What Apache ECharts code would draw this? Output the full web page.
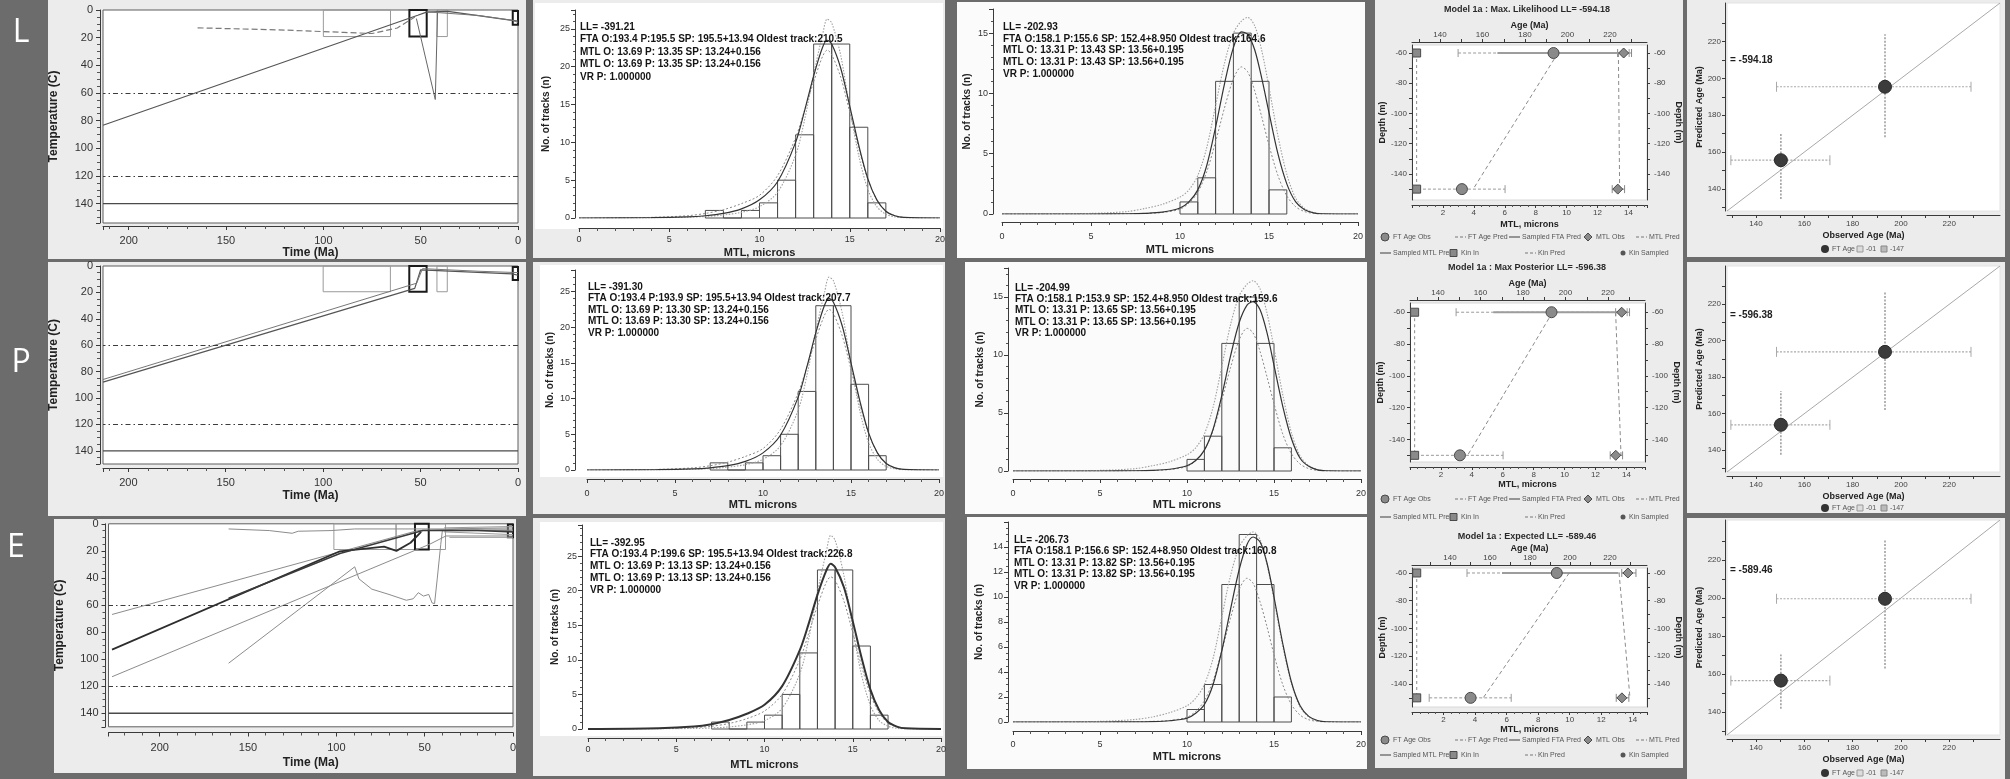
<!DOCTYPE html>
<html>
<head>
<meta charset="utf-8">
<script src="https://cdn.jsdelivr.net/npm/echarts@6/dist/echarts.min.js"></script>
<style>
  html, body { margin: 0; padding: 0; background: #6c6c6c; }
  #chart { width: 2010px; height: 779px; }
</style>
</head>
<body>
<div id="chart"></div>
<script>
// ===================== data =====================
// temperature-time panels
const timeTickLabels = [0, 50, 100, 150, 200];
const tempTickLabels = [0, 20, 40, 60, 80, 100, 120, 140];
const pazTemps = [60, 120];          // dashed partial annealing limits (°C)
const floorTemp = 140;               // solid base line (°C)

// constraint boxes: [t0, t1, T0, T1]
const boxesL = [[100, 65.5, 0, 19.2], [41.6, 36.3, 0, 19.2]];
const keyBoxesL = [[55.8, 46.9, 0, 19.2], [2.7, 0, 0.8, 10.7]];
const boxesP = [[100, 65.5, 0, 19.5], [41.6, 36.3, 0, 19.5]];
const keyBoxesP = [[55.8, 46.9, 0, 19.5], [2.7, 0, 0.8, 10.7]];
const boxesE = [[101.4, 66.2, 0, 19], [66.2, 38.2, 0, 19]];
const keyBoxesE = [[55.5, 47.7, 0, 19], [2.9, 0, 0.5, 10]];

// thermal paths: [time Ma, temperature °C]
const pathL_best = [[213.2, 83.3], [51.5, 3.8], [47, 1.5], [36, 1], [3, 7.5], [0, 8]];
const pathL_alt = [[164.6, 12.9], [120, 14.5], [89.4, 16.2], [75, 17], [62, 13], [53, 5]];
const pathL_spike = [[52.2, 6.2], [42.5, 64.7], [41.3, 0.5]];
const pathL_tail = [[46.9, 1.3], [20, 4], [2.7, 7.5], [0, 9]];

const pathP_best = [[213, 88], [53, 17], [50, 3], [3, 6], [0, 7]];
const pathP_alt = [[213, 86], [52, 13], [49, 2], [20, 4], [0, 5]];

const pathE_upper = [[227, 67], [54, 5], [30, 4], [0, 4]];
const pathE_darkA = [[227, 93], [98, 20.3], [73, 16.8], [66, 20], [58, 14], [52, 6]];
const pathE_darkB = [[161, 55], [98, 22], [51, 5], [20, 5], [0, 6]];
const pathE_lower = [[227, 113], [47, 15], [38, 9], [0, 9]];
const pathE_wander = [[161, 103], [89.6, 31.8], [87.2, 40.7], [79.9, 48.3], [70.2, 52.2], [60.4, 56.5],
  [56.5, 55.4], [53.6, 50.9], [50.7, 53.4], [47.7, 52.2], [45.8, 58.5], [44.4, 59], [42.9, 40.7],
  [40.9, 15.2], [40, 5.1], [1, 5], [0, 5]];
const pathE_top = [[161, 3.8], [138, 5], [125, 7], [121.6, 5.5], [103, 5], [89.6, 3.8], [66, 3.8], [39, 3.8], [0, 3]];
const pathE_fanA = [[39, 3], [0, 2]];
const pathE_fanB = [[39, 6], [0, 8]];
const pathE_fanC = [[36, 10], [0, 10]];

// track-length histograms (bin start, count)
const binWidth = 1;
const s1BinStarts = [7, 8, 9, 10, 11, 12, 13, 14, 15, 16];
const s1Counts = [1, 0, 1, 2, 5, 11, 23, 23, 12, 2];
const s2BinStarts = [10, 11, 12, 13, 14, 15];
const s2Counts = [1, 3, 11, 15, 11, 2];

// length-distribution curves (MTL microns vs tracks)
const s1CurveX = [0, 4, 6, 7, 8, 9, 10, 11, 12, 12.5, 13, 13.5, 13.75, 14, 14.5, 15, 15.5, 16, 16.5, 17, 17.5, 18, 20];
const s1L_tall = [0, 0.02, 0.1, 0.2, 0.4, 0.75, 1.5, 3.4, 8.3, 13, 19, 24.3, 26.3, 25.8, 21.5, 14.5, 8.2, 3.8, 1.5, 0.5, 0.15, 0.03, 0];
const s1L_fit = [0, 0.04, 0.15, 0.3, 0.6, 1.2, 2.4, 4.8, 10, 14.2, 18.8, 22.6, 23.5, 23, 19.8, 14.8, 9.6, 5.2, 2.4, 0.9, 0.3, 0.08, 0];
const s1L_low = [0, 0.08, 0.3, 0.6, 1.1, 1.9, 3.0, 5.6, 10.6, 14.3, 18, 21.4, 22.2, 21.6, 18.6, 14, 9.2, 5.1, 2.4, 0.9, 0.3, 0.08, 0];
const s1P_tall = [0, 0.02, 0.1, 0.2, 0.4, 0.75, 1.5, 3.4, 8.4, 13.3, 19.5, 24.9, 27, 26.5, 22, 14.8, 8.3, 3.8, 1.5, 0.5, 0.15, 0.03, 0];
const s1P_fit = [0, 0.04, 0.15, 0.3, 0.6, 1.2, 2.4, 4.9, 10.2, 14.5, 19.2, 23.1, 24, 23.5, 20.2, 15, 9.7, 5.2, 2.4, 0.9, 0.3, 0.08, 0];
const s1P_low = [0, 0.08, 0.3, 0.6, 1.1, 1.9, 3.0, 5.7, 10.8, 14.5, 18.3, 21.7, 22.5, 21.9, 18.8, 14.1, 9.2, 5.1, 2.4, 0.9, 0.3, 0.08, 0];
const s1E_tall = [0, 0.02, 0.08, 0.15, 0.3, 0.6, 1.2, 3, 8, 13, 19.8, 25.6, 28, 27.3, 22.2, 14.4, 7.8, 3.4, 1.2, 0.4, 0.1, 0.02, 0];
const s1E_fit = [0, 0.1, 0.35, 0.7, 1.3, 2.2, 3.5, 6.2, 11.4, 15.2, 19.4, 22.9, 23.9, 23.4, 20.5, 15.6, 10.3, 5.7, 2.7, 1.0, 0.35, 0.1, 0];
const s1E_low = [0, 0.05, 0.2, 0.4, 0.8, 1.5, 2.6, 5, 10, 13.8, 17.8, 21.2, 22, 21.5, 18.5, 13.9, 9.1, 5, 2.3, 0.85, 0.28, 0.07, 0];

const s2CurveX = [0, 5, 7, 8, 9, 10, 10.5, 11, 11.5, 12, 12.5, 13, 13.45, 13.8, 14.2, 14.6, 15, 15.5, 16, 16.5, 17, 17.5, 18, 20];
const s2L_tall = [0, 0.05, 0.2, 0.45, 0.8, 1.4, 2, 3.2, 5.5, 9, 12.5, 15, 16, 16.3, 15.6, 13.5, 10.5, 6.5, 3.3, 1.3, 0.45, 0.12, 0.02, 0];
const s2L_fit = [0, 0, 0.02, 0.05, 0.15, 0.5, 1, 2, 4, 7.2, 10.8, 13.8, 15.1, 14.9, 13.6, 11.2, 8.4, 5, 2.5, 1, 0.35, 0.1, 0.02, 0];
const s2L_low = [0, 0, 0.02, 0.05, 0.12, 0.4, 0.9, 1.8, 3.5, 6, 8.8, 11.2, 12.2, 11.8, 10.2, 8, 5.7, 3.2, 1.5, 0.6, 0.2, 0.05, 0, 0];
const s2P_tall = [0, 0.05, 0.2, 0.45, 0.8, 1.4, 2, 3.2, 5.5, 9, 12.6, 15.1, 16.1, 16.4, 15.7, 13.6, 10.6, 6.6, 3.3, 1.3, 0.45, 0.12, 0.02, 0];
const s2P_fit = [0, 0, 0.02, 0.05, 0.15, 0.45, 0.9, 1.8, 3.6, 6.5, 9.9, 12.8, 14.3, 14.6, 13.9, 11.9, 9.1, 5.6, 2.8, 1.1, 0.4, 0.1, 0.02, 0];
const s2P_low = [0, 0, 0.02, 0.05, 0.12, 0.4, 0.9, 1.8, 3.5, 6.1, 8.9, 11.3, 12.3, 11.9, 10.3, 8.1, 5.8, 3.2, 1.5, 0.6, 0.2, 0.05, 0, 0];
const s2E_tall = [0, 0.05, 0.2, 0.4, 0.75, 1.3, 1.9, 3, 5.1, 8.4, 11.7, 14, 14.9, 15.2, 14.6, 12.6, 9.8, 6.1, 3.1, 1.2, 0.4, 0.1, 0.02, 0];
const s2E_fit = [0, 0, 0.01, 0.03, 0.1, 0.3, 0.7, 1.4, 3, 5.7, 9, 12.2, 14.2, 14.8, 14.4, 12.7, 10, 6.3, 3.2, 1.3, 0.45, 0.12, 0.02, 0];
const s2E_low = [0, 0, 0.02, 0.05, 0.12, 0.38, 0.85, 1.7, 3.3, 5.7, 8.3, 10.6, 11.5, 11.1, 9.6, 7.6, 5.4, 3, 1.4, 0.55, 0.18, 0.05, 0, 0];

// statistics printed in the histogram panels
const statsS1L = ['LL= -391.21', 'FTA O:193.4 P:195.5 SP: 195.5+13.94 Oldest track:210.5', 'MTL O: 13.69 P: 13.35 SP: 13.24+0.156', 'MTL O: 13.69 P: 13.35 SP: 13.24+0.156', 'VR P: 1.000000'];
const statsS1P = ['LL= -391.30', 'FTA O:193.4 P:193.9 SP: 195.5+13.94 Oldest track:207.7', 'MTL O: 13.69 P: 13.30 SP: 13.24+0.156', 'MTL O: 13.69 P: 13.30 SP: 13.24+0.156', 'VR P: 1.000000'];
const statsS1E = ['LL= -392.95', 'FTA O:193.4 P:199.6 SP: 195.5+13.94 Oldest track:226.8', 'MTL O: 13.69 P: 13.13 SP: 13.24+0.156', 'MTL O: 13.69 P: 13.13 SP: 13.24+0.156', 'VR P: 1.000000'];
const statsS2L = ['LL= -202.93', 'FTA O:158.1 P:155.6 SP: 152.4+8.950 Oldest track:164.6', 'MTL O: 13.31 P: 13.43 SP: 13.56+0.195', 'MTL O: 13.31 P: 13.43 SP: 13.56+0.195', 'VR P: 1.000000'];
const statsS2P = ['LL= -204.99', 'FTA O:158.1 P:153.9 SP: 152.4+8.950 Oldest track:159.6', 'MTL O: 13.31 P: 13.65 SP: 13.56+0.195', 'MTL O: 13.31 P: 13.65 SP: 13.56+0.195', 'VR P: 1.000000'];
const statsS2E = ['LL= -206.73', 'FTA O:158.1 P:156.6 SP: 152.4+8.950 Oldest track:160.8', 'MTL O: 13.31 P: 13.82 SP: 13.56+0.195', 'MTL O: 13.31 P: 13.82 SP: 13.56+0.195', 'VR P: 1.000000'];

// depth profiles and age comparison
const sampleDepths = [-60, -150];
const depthTickLabels = [-60, -80, -100, -120, -140];
const depthMinorTicks = [-60, -70, -80, -90, -100, -110, -120, -130, -140, -150];
const ageTickLabels = [140, 160, 180, 200, 220];
const ageMinorTicks = [130, 140, 150, 160, 170, 180, 190, 200, 210, 220, 230];
const ftaObs = [193.4, 150.3];                 // observed FT ages as plotted
const ftaObsErr = [[148.5, 229], [129.6, 170.6]];
const ftaPredL = [195.5, 155.6];
const ftaPredP = [193.9, 153.9];
const ftaPredE = [199.6, 156.6];
const ftaSampledL = [167, 224];
const ftaSampledP = [166, 225];
const ftaSampledE = [166, 224];
const mtlObs = [13.69, 13.31];
const mtlObsErr = [[13.3, 14.2], [12.95, 13.75]];
const mtlPredL = [13.35, 13.43];
const mtlPredP = [13.30, 13.65];
const mtlPredE = [13.13, 13.82];
const kinIn = [0.3, 0.3];
const modelTitles = ['Model 1a : Max. Likelihood LL= -594.18', 'Model 1a : Max Posterior LL= -596.38', 'Model 1a : Expected LL= -589.46'];
const modelLL = ['= -594.18', '= -596.38', '= -589.46'];
const predErrL = [[168, 224], [134.5, 170.7]];
const predErrP = [[162, 226.8], [137.5, 172.5]];
const predErrE = [[163, 231], [141.8, 170.3]];
const oneToOne = [128, 241];
const rowLetters = ['L', 'P', 'E'];

// ===================== drawing helpers =====================
const FT = '"Liberation Sans", Arial, sans-serif';
const grids = [], xAxes = [], yAxes = [], series = [], graphic = [];

function merge(a, b) {
  const out = Object.assign({}, a);
  for (const k in b) {
    const v = b[k];
    if (v && typeof v === 'object' && !Array.isArray(v) && a[k] && typeof a[k] === 'object' && !Array.isArray(a[k])) out[k] = merge(a[k], v);
    else out[k] = v;
  }
  return out;
}
function axis(extra) {
  return merge({
    type: 'value',
    axisLine: { show: true, onZero: false, lineStyle: { color: '#3a3a3a', width: 1 } },
    axisTick: { show: true, length: 4, lineStyle: { color: '#3a3a3a' } },
    minorTick: { show: true, length: 2, splitNumber: 5, lineStyle: { color: '#555' } },
    axisLabel: { color: '#333', fontSize: 9, fontFamily: FT, margin: 5 },
    splitLine: { show: false },
    minorSplitLine: { show: false },
    nameLocation: 'middle',
    nameTextStyle: { color: '#222', fontSize: 11, fontWeight: 'bold', fontFamily: FT }
  }, extra);
}
function addGrid(l, t, w, h, extra) {
  grids.push(Object.assign({ left: l, top: t, width: w, height: h }, extra || {}));
  return grids.length - 1;
}
function addX(a) { xAxes.push(a); return xAxes.length - 1; }
function addY(a) { yAxes.push(a); return yAxes.length - 1; }
function rect(x, y, w, h, fill, z) {
  graphic.push({ type: 'rect', silent: true, z: z == null ? -10 : z, shape: { x, y, width: w, height: h }, style: { fill } });
}
function text(x, y, str, font, fill, align, rot) {
  graphic.push({ type: 'text', silent: true, z: 20, x, y, rotation: rot || 0,
    style: { text: str, font, fill: fill || '#1e1e1e', textAlign: align || 'left', textVerticalAlign: 'middle', align: align || 'left', verticalAlign: 'middle' } });
}
function zip(xs, ys) { return xs.map((x, i) => [x, ys[i]]); }
function lineSeries(xi, yi, data, color, width, type, smooth) {
  series.push({ type: 'line', xAxisIndex: xi, yAxisIndex: yi, data, showSymbol: false, symbol: 'none',
    smooth: smooth || false, silent: true, lineStyle: { color, width, type: type || 'solid' } });
}
function boxSeries(xi, yi, boxes, color, width) {
  series.push({ type: 'custom', xAxisIndex: xi, yAxisIndex: yi, silent: true, clip: false,
    encode: { x: [0, 1], y: [2, 3] }, data: boxes,
    renderItem(params, api) {
      const a = api.coord([api.value(0), api.value(2)]);
      const b = api.coord([api.value(1), api.value(3)]);
      return { type: 'rect', shape: { x: Math.min(a[0], b[0]), y: Math.min(a[1], b[1]), width: Math.abs(b[0] - a[0]), height: Math.abs(b[1] - a[1]) },
        style: { fill: 'none', stroke: color, lineWidth: width } };
    } });
}
function hErrSeries(xi, yi, data, color, width, dash, cap) {
  series.push({ type: 'custom', xAxisIndex: xi, yAxisIndex: yi, silent: true, clip: false,
    encode: { x: [0, 1], y: 2 }, data,
    renderItem(params, api) {
      const a = api.coord([api.value(0), api.value(2)]);
      const b = api.coord([api.value(1), api.value(2)]);
      return { type: 'group', children: [
        { type: 'line', shape: { x1: a[0], y1: a[1], x2: b[0], y2: b[1] }, style: { stroke: color, lineWidth: width, lineDash: dash } },
        { type: 'line', shape: { x1: a[0], y1: a[1] - cap, x2: a[0], y2: a[1] + cap }, style: { stroke: color, lineWidth: 1 } },
        { type: 'line', shape: { x1: b[0], y1: b[1] - cap, x2: b[0], y2: b[1] + cap }, style: { stroke: color, lineWidth: 1 } }
      ] };
    } });
}
function vErrSeries(xi, yi, data, color, width, dash) {
  series.push({ type: 'custom', xAxisIndex: xi, yAxisIndex: yi, silent: true, clip: false,
    encode: { x: 0, y: [1, 2] }, data,
    renderItem(params, api) {
      const a = api.coord([api.value(0), api.value(1)]);
      const b = api.coord([api.value(0), api.value(2)]);
      return { type: 'line', shape: { x1: a[0], y1: a[1], x2: b[0], y2: b[1] }, style: { stroke: color, lineWidth: width, lineDash: dash } };
    } });
}
function scatter(xi, yi, data, symbol, size, fill, stroke) {
  series.push({ type: 'scatter', xAxisIndex: xi, yAxisIndex: yi, data, symbol, symbolSize: size, silent: true, z: 5,
    itemStyle: { color: fill, borderColor: stroke, borderWidth: 1, opacity: 1 } });
}

// ===================== background & panels =====================
rect(0, 0, 2010, 779, '#6c6c6c', -20);
// column 1 (thermal histories)
rect(48, 0, 478, 259, '#ececec');
rect(48, 262, 478, 254, '#ececec');
rect(54, 519, 462, 254, '#ececec');
// column 2 (sample 1 histograms)
rect(533, 0, 412, 258, '#ececec'); rect(535, 3, 408, 226, '#ffffff');
rect(533, 262, 412, 252, '#ececec'); rect(540, 265, 403, 212, '#ffffff');
rect(533, 518, 412, 258, '#ececec'); rect(540, 522, 403, 214, '#ffffff');
// column 3 (sample 2 histograms)
rect(957, 2, 408, 256, '#fbfbfb');
rect(965, 262, 402, 252, '#fbfbfb');
rect(967, 517, 400, 252, '#fbfbfb');
// column 4 (depth profiles)
rect(1375, 0, 308, 768, '#ececec');
// column 5 (age comparison)
rect(1687, 0, 318, 257, '#ececec');
rect(1687, 262, 318, 251, '#ececec');
rect(1687, 518, 318, 261, '#ececec');

// row letters
text(21, 33, rowLetters[0], '32px "Open Sans", sans-serif', '#ffffff', 'center');
text(21, 363, rowLetters[1], '32px "Open Sans", sans-serif', '#ffffff', 'center');
text(16, 548, rowLetters[2], '32px "Open Sans", sans-serif', '#ffffff', 'center');

// ===================== column 1: temperature vs time =====================
function tempPanel(p) {
  const gi = addGrid(p.l, p.t, p.w, p.h, { show: true, backgroundColor: '#fff', borderColor: '#5f5f5f', borderWidth: 1 });
  const xi = addX(axis({ gridIndex: gi, min: 0, max: p.tMax, interval: 50, inverse: true, offset: p.xOff,
    name: 'Time (Ma)', nameGap: p.xNameGap, nameTextStyle: { fontSize: 12 },
    axisLabel: { showMaxLabel: false, fontSize: 11, margin: p.xLabelMargin },
    minorTick: { splitNumber: 5, length: 3 } }));
  const yi = addY(axis({ gridIndex: gi, min: 0, max: p.TMax, interval: 20, inverse: true, offset: 3,
    name: 'Temperature (C)', nameGap: 40, nameTextStyle: { fontSize: 12 },
    axisLabel: { showMaxLabel: false, fontSize: 11, margin: 7 },
    minorTick: { splitNumber: 4, length: 3 } }));
  series.push({ type: 'line', xAxisIndex: xi, yAxisIndex: yi, data: [[0, floorTemp], [p.tMax, floorTemp]],
    showSymbol: false, symbol: 'none', silent: true, lineStyle: { color: '#4a4a4a', width: 1.3 },
    markLine: { silent: true, symbol: ['none', 'none'], label: { show: false }, animation: false,
      data: pazTemps.map(v => ({ yAxis: v, lineStyle: { color: '#3c3c3c', type: [5, 3, 1.5, 3], width: 1.1 } })) } });
  boxSeries(xi, yi, p.boxes, '#9a9a9a', 1);
  p.paths.forEach(q => lineSeries(xi, yi, q.d, q.c, q.w, q.type));
  boxSeries(xi, yi, p.keyBoxes, '#1a1a1a', 2);
}
tempPanel({ l: 103, t: 10, w: 415, h: 213, tMax: 213.2, TMax: 154, xOff: 3, xLabelMargin: 9, xNameGap: 21,
  boxes: boxesL, keyBoxes: keyBoxesL, paths: [
    { d: pathL_best, c: '#555', w: 1.2 }, { d: pathL_alt, c: '#7a7a7a', w: 1.2, type: [6, 3] },
    { d: pathL_spike, c: '#666', w: 1 }, { d: pathL_tail, c: '#777', w: 1 } ] });
tempPanel({ l: 103, t: 266, w: 415, h: 198, tMax: 213, TMax: 150, xOff: 4, xLabelMargin: 9, xNameGap: 22,
  boxes: boxesP, keyBoxes: keyBoxesP, paths: [
    { d: pathP_best, c: '#555', w: 1.2 }, { d: pathP_alt, c: '#777', w: 1 } ] });
tempPanel({ l: 108.5, t: 523.8, w: 404.5, h: 203, tMax: 229, TMax: 150, xOff: 5.7, xLabelMargin: 10, xNameGap: 24,
  boxes: boxesE, keyBoxes: keyBoxesE, paths: [
    { d: pathE_top, c: '#8c8c8c', w: 1 }, { d: pathE_upper, c: '#8c8c8c', w: 1 },
    { d: pathE_lower, c: '#8c8c8c', w: 1 }, { d: pathE_wander, c: '#8c8c8c', w: 1 },
    { d: pathE_fanA, c: '#999', w: 1 }, { d: pathE_fanB, c: '#999', w: 1 }, { d: pathE_fanC, c: '#999', w: 1 },
    { d: pathE_darkA, c: '#2e2e2e', w: 1.8 }, { d: pathE_darkB, c: '#3a3a3a', w: 1.6 } ] });

// ===================== columns 2 & 3: track-length histograms =====================
function histPanel(p) {
  const gi = addGrid(p.l, p.t, p.w, p.h);
  const xi = addX(axis({ gridIndex: gi, min: 0, max: 20, interval: 5, offset: p.xOff,
    name: p.xName, nameGap: p.xNameGap, nameTextStyle: { fontSize: 11 },
    axisLabel: { margin: p.xLabelMargin }, minorTick: { splitNumber: 5, length: 3 } }));
  const yi = addY(axis({ gridIndex: gi, min: 0, max: p.yMax, interval: p.yInt, offset: p.yOff,
    name: 'No. of tracks (n)', nameGap: p.yNameGap, nameTextStyle: { fontSize: 10 },
    axisLabel: { showMaxLabel: false, margin: 5 }, minorTick: { splitNumber: p.yMinor, length: 2 } }));
  series.push({ type: 'custom', xAxisIndex: xi, yAxisIndex: yi, silent: true, clip: false,
    encode: { x: [0, 1], y: 2 },
    data: p.starts.map((s, i) => [s, s + binWidth, p.counts[i]]),
    renderItem(params, api) {
      const a = api.coord([api.value(0), api.value(2)]);
      const b = api.coord([api.value(1), 0]);
      return { type: 'rect', shape: { x: a[0], y: a[1], width: b[0] - a[0], height: b[1] - a[1] },
        style: { fill: 'rgba(255,255,255,0)', stroke: '#4d4d4d', lineWidth: 1 } };
    } });
  lineSeries(xi, yi, zip(p.cx, p.low), '#8a8a8a', 1, [2, 2], 0.3);
  lineSeries(xi, yi, zip(p.cx, p.tall), '#a0a0a0', 1.1, [1.5, 1.5], 0.3);
  lineSeries(xi, yi, zip(p.cx, p.fit), '#333', p.fitW || 1.2, 'solid', 0.3);
  p.stats.forEach((s, i) => text(p.tx, p.ty + i * p.lh, s, 'bold 10px ' + FT, '#141414', 'left'));
}
histPanel({ l: 579, t: 10, w: 361, h: 208, yMax: 27.5, yInt: 5, yMinor: 5, yOff: 4, xOff: 10, xLabelMargin: 7,
  xName: 'MTL, microns', xNameGap: 19, yNameGap: 24, starts: s1BinStarts, counts: s1Counts,
  cx: s1CurveX, tall: s1L_tall, fit: s1L_fit, low: s1L_low, stats: statsS1L, tx: 580, ty: 27, lh: 12.5 });
histPanel({ l: 587, t: 270, w: 352, h: 200, yMax: 28, yInt: 5, yMinor: 5, yOff: 12, xOff: 9, xLabelMargin: 10,
  xName: 'MTL microns', xNameGap: 20, yNameGap: 20, starts: s1BinStarts, counts: s1Counts,
  cx: s1CurveX, tall: s1P_tall, fit: s1P_fit, low: s1P_low, stats: statsS1P, tx: 588, ty: 287, lh: 11.5 });
histPanel({ l: 588, t: 525, w: 353, h: 204, yMax: 29.5, yInt: 5, yMinor: 5, yOff: 6, xOff: 9, xLabelMargin: 7,
  xName: 'MTL microns', xNameGap: 21, yNameGap: 22, starts: s1BinStarts, counts: s1Counts,
  cx: s1CurveX, tall: s1E_tall, fit: s1E_fit, low: s1E_low, fitW: 2, stats: statsS1E, tx: 590, ty: 543, lh: 11.7 });
histPanel({ l: 1002, t: 9, w: 356, h: 205, yMax: 17, yInt: 5, yMinor: 5, yOff: 9, xOff: 8, xLabelMargin: 10,
  xName: 'MTL microns', xNameGap: 22, yNameGap: 21, starts: s2BinStarts, counts: s2Counts,
  cx: s2CurveX, tall: s2L_tall, fit: s2L_fit, low: s2L_low, stats: statsS2L, tx: 1003, ty: 27, lh: 11.8 });
histPanel({ l: 1013, t: 268, w: 348, h: 203, yMax: 17.5, yInt: 5, yMinor: 5, yOff: 5, xOff: 8, xLabelMargin: 10,
  xName: 'MTL microns', xNameGap: 20, yNameGap: 23, starts: s2BinStarts, counts: s2Counts,
  cx: s2CurveX, tall: s2P_tall, fit: s2P_fit, low: s2P_low, stats: statsS2P, tx: 1015, ty: 288, lh: 11.3 });
histPanel({ l: 1013, t: 522, w: 348, h: 200, yMax: 16, yInt: 2, yMinor: 4, yOff: 5, xOff: 9, xLabelMargin: 9,
  xName: 'MTL microns', xNameGap: 20, yNameGap: 24, starts: s2BinStarts, counts: s2Counts,
  cx: s2CurveX, tall: s2E_tall, fit: s2E_fit, low: s2E_low, stats: statsS2E, tx: 1014, ty: 540, lh: 11.5 });

// ===================== column 4: depth profiles =====================
const small = { fontSize: 8, color: '#444' };
function depthPanel(p) {
  const gi = addGrid(p.l, p.t, p.w, p.h, { show: true, backgroundColor: '#fff', borderColor: '#d8d8d8', borderWidth: 1 });
  const ageX = addX(axis({ gridIndex: gi, position: 'top', min: p.ageMin, max: p.ageMax, offset: 3,
    name: 'Age (Ma)', nameGap: 12, nameTextStyle: { fontSize: 9 },
    axisLabel: merge(small, { margin: 3, customValues: ageTickLabels }),
    axisTick: { length: 3, customValues: ageMinorTicks }, minorTick: { show: false } }));
  const mtlX = addX(axis({ gridIndex: gi, position: 'bottom', min: 0, max: p.mtlMax, interval: 2, offset: 5,
    name: 'MTL, microns', nameGap: p.mtlNameGap, nameTextStyle: { fontSize: 9 },
    axisLabel: merge(small, { margin: 4, showMinLabel: false, showMaxLabel: false }),
    axisTick: { length: 3 }, minorTick: { splitNumber: 4, length: 2 } }));
  const dL = addY(axis({ gridIndex: gi, position: 'left', min: p.dMin, max: p.dMax, offset: 0,
    name: 'Depth (m)', nameGap: 24, nameTextStyle: { fontSize: 9 },
    axisLabel: merge(small, { margin: 5, customValues: depthTickLabels }),
    axisTick: { length: 3, customValues: depthMinorTicks }, minorTick: { show: false } }));
  const dR = addY(axis({ gridIndex: gi, position: 'right', min: p.dMin, max: p.dMax, offset: 0,
    name: 'Depth (m)', nameGap: 22, nameRotate: -90, nameTextStyle: { fontSize: 9 },
    axisLabel: merge(small, { margin: 7, customValues: depthTickLabels }),
    axisTick: { length: 3, customValues: depthMinorTicks }, minorTick: { show: false } }));
  // kinetic parameter column
  lineSeries(mtlX, dL, zip(kinIn, sampleDepths), '#8c8c8c', 1, [3, 3]);
  scatter(mtlX, dL, zip(kinIn, sampleDepths), 'rect', 8, '#8a8a8a', '#4a4a4a');
  // track lengths
  hErrSeries(mtlX, dL, mtlObsErr.map((e, i) => [e[0], e[1], sampleDepths[i]]), '#888', 1, null, 4);
  lineSeries(mtlX, dL, zip(p.mtlPred, sampleDepths), '#8c8c8c', 1, [4, 3]);
  scatter(mtlX, dL, zip(mtlObs, sampleDepths), 'diamond', 10, '#8a8a8a', '#4a4a4a');
  // fission-track ages
  hErrSeries(ageX, dL, ftaObsErr.map((e, i) => [e[0], e[1], sampleDepths[i]]), '#9a9a9a', 1, [3, 2], 4);
  series.push({ type: 'line', xAxisIndex: ageX, yAxisIndex: dL, silent: true, showSymbol: false, symbol: 'none',
    data: [[p.sampled[0], sampleDepths[0]], [p.sampled[1], sampleDepths[0]]], lineStyle: { color: '#9d9d9d', width: 2 } });
  lineSeries(ageX, dL, zip(p.ftaPred, sampleDepths), '#8a8a8a', 1, [4, 3]);
  scatter(ageX, dL, zip(ftaObs, sampleDepths), 'circle', 11, '#8a8a8a', '#4a4a4a');
  text(1527, p.titleY, p.title, 'bold 9px ' + FT, '#2a2a2a', 'center');
}
depthPanel({ l: 1412, t: 45, w: 235, h: 155, ageMin: 126.8, ageMax: 237.4, mtlMax: 15.2, dMin: -157.2, dMax: -54.7,
  mtlNameGap: 15, mtlPred: mtlPredL, ftaPred: ftaPredL, sampled: ftaSampledL, title: modelTitles[0], titleY: 10 });
depthPanel({ l: 1410, t: 303, w: 235, h: 159, ageMin: 126.8, ageMax: 237.4, mtlMax: 15.2, dMin: -154.2, dMax: -54.2,
  mtlNameGap: 13, mtlPred: mtlPredP, ftaPred: ftaPredP, sampled: ftaSampledP, title: modelTitles[1], titleY: 268 });
depthPanel({ l: 1412, t: 568, w: 235, h: 139, ageMin: 121, ageMax: 238.5, mtlMax: 14.9, dMin: -156.6, dMax: -56.4,
  mtlNameGap: 12, mtlPred: mtlPredE, ftaPred: ftaPredE, sampled: ftaSampledE, title: modelTitles[2], titleY: 537 });

// legends for the depth profiles
function depthLegend(y1, y2) {
  const f = '7px ' + FT, c = '#555';
  const line = (x, y, dash, w) => graphic.push({ type: 'line', silent: true, z: 20, shape: { x1: x, y1: y, x2: x + 11, y2: y }, style: { stroke: '#777', lineWidth: w || 1, lineDash: dash } });
  graphic.push({ type: 'circle', silent: true, z: 20, shape: { cx: 1385, cy: y1, r: 4 }, style: { fill: '#8a8a8a', stroke: '#4a4a4a' } });
  text(1393, y1, 'FT Age Obs', f, c);
  line(1455, y1, [3, 2]); text(1468, y1, 'FT Age Pred', f, c);
  line(1509, y1, null, 1.5); text(1522, y1, 'Sampled FTA Pred', f, c);
  graphic.push({ type: 'polygon', silent: true, z: 20, shape: { points: [[1588, y1 - 4], [1592, y1], [1588, y1 + 4], [1584, y1]] }, style: { fill: '#8a8a8a', stroke: '#4a4a4a' } });
  text(1596, y1, 'MTL Obs', f, c);
  line(1636, y1, [3, 2]); text(1649, y1, 'MTL Pred', f, c);
  line(1380, y2, null, 1.5); text(1393, y2, 'Sampled MTL Pred', f, c);
  graphic.push({ type: 'rect', silent: true, z: 20, shape: { x: 1450, y: y2 - 3.5, width: 7, height: 7 }, style: { fill: '#8a8a8a', stroke: '#4a4a4a' } });
  text(1461, y2, 'Kin In', f, c);
  line(1525, y2, [3, 2]); text(1538, y2, 'Kin Pred', f, c);
  graphic.push({ type: 'circle', silent: true, z: 20, shape: { cx: 1623, cy: y2, r: 2.5 }, style: { fill: '#555' } });
  text(1629, y2, 'Kin Sampled', f, c);
}
depthLegend(237, 253);
depthLegend(499, 517);
depthLegend(740, 755);

// ===================== column 5: observed vs predicted ages =====================
function agePanel(p) {
  const gi = addGrid(1727, p.t, 273, p.h, { show: true, backgroundColor: '#fff', borderColor: '#e2e2e2', borderWidth: 1 });
  const xi = addX(axis({ gridIndex: gi, min: oneToOne[0], max: oneToOne[1], offset: 4,
    name: 'Observed Age (Ma)', nameGap: 16, nameTextStyle: { fontSize: 9 },
    axisLabel: merge(small, { margin: 5, customValues: ageTickLabels }),
    axisTick: { length: 3, customValues: ageMinorTicks }, minorTick: { show: false } }));
  const yi = addY(axis({ gridIndex: gi, min: oneToOne[0], max: oneToOne[1], offset: 2,
    name: 'Predicted Age (Ma)', nameGap: 20, nameTextStyle: { fontSize: 9 },
    axisLabel: merge(small, { margin: 4, customValues: ageTickLabels }),
    axisTick: { length: 3, customValues: ageMinorTicks }, minorTick: { show: false } }));
  lineSeries(xi, yi, [[oneToOne[0], oneToOne[0]], [oneToOne[1], oneToOne[1]]], '#a8a8a8', 1);
  hErrSeries(xi, yi, ftaObsErr.map((e, i) => [e[0], e[1], p.pred[i]]), '#a9a9a9', 1.2, [2, 1.5], 5);
  vErrSeries(xi, yi, p.predErr.map((e, i) => [ftaObs[i], e[0], e[1]]), '#9a9a9a', 1.5, [2, 1.5]);
  scatter(xi, yi, zip(ftaObs, p.pred), 'circle', 13, '#3c3c3c', '#2a2a2a');
  text(1730, p.llY, p.ll, 'bold 10px ' + FT, '#1e1e1e', 'left');
  const ly = p.legendY, f = '7px ' + FT;
  graphic.push({ type: 'circle', silent: true, z: 20, shape: { cx: 1825, cy: ly, r: 4 }, style: { fill: '#333' } });
  text(1832, ly, 'FT Age', f, '#555');
  graphic.push({ type: 'rect', silent: true, z: 20, shape: { x: 1857, y: ly - 3, width: 6, height: 6 }, style: { fill: '#ddd', stroke: '#999' } });
  text(1866, ly, '-01', f, '#555');
  graphic.push({ type: 'rect', silent: true, z: 20, shape: { x: 1881, y: ly - 3, width: 6, height: 6 }, style: { fill: '#bbb', stroke: '#888' } });
  text(1890, ly, '-147', f, '#555');
}
agePanel({ t: 3, h: 208, pred: ftaPredL, predErr: predErrL, ll: modelLL[0], llY: 60, legendY: 249 });
agePanel({ t: 266, h: 206, pred: ftaPredP, predErr: predErrP, ll: modelLL[1], llY: 315, legendY: 508 });
agePanel({ t: 520, h: 215, pred: ftaPredE, predErr: predErrE, ll: modelLL[2], llY: 570, legendY: 773 });

// ===================== render =====================
const chart = echarts.init(document.getElementById('chart'), null, { renderer: 'canvas', width: 2010, height: 779 });
chart.setOption({
  animation: false,
  backgroundColor: '#6c6c6c',
  grid: grids,
  xAxis: xAxes,
  yAxis: yAxes,
  series: series,
  graphic: { elements: graphic }
});
</script>
</body>
</html>
